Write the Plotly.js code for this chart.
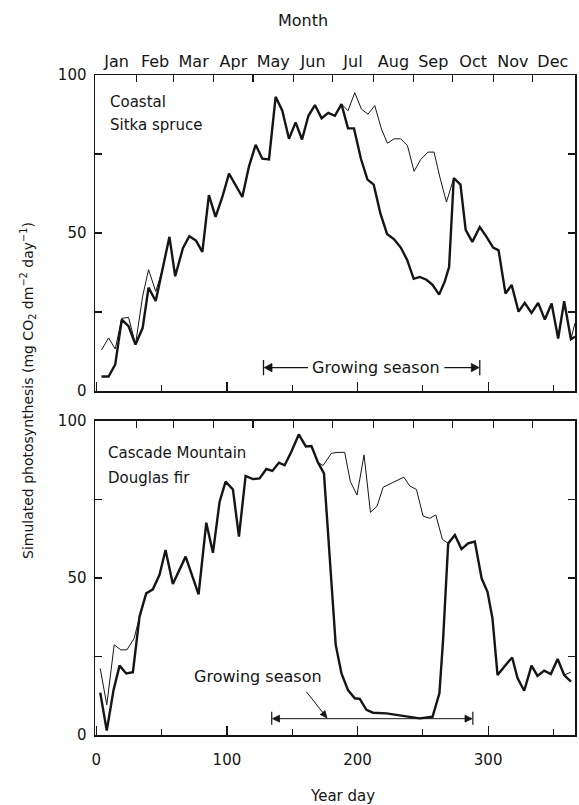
<!DOCTYPE html>
<html>
<head>
<meta charset="utf-8">
<script src="https://cdn.plot.ly/plotly-3.0.1.min.js"></script>
<style>html,body{margin:0;padding:0;background:#fff;}#chart{width:579px;height:805px;}</style>
</head>
<body>
<div id="chart"></div>
<script>
// ---- data ----
const months = ["Jan","Feb","Mar","Apr","May","Jun","Jul","Aug","Sep","Oct","Nov","Dec"];
const monthMid = [15.5,45,74.5,105,135.5,166,196.5,227.5,258,288.5,319,349.5];
const monthStart = [31,59,90,120,151,181,212,243,273,304,334];

// Coastal Sitka spruce
const topDays = [4,9.4,14.5,19.5,24.7,30,35.5,40,45.5,50.7,56,60.4,66.3,71.2,76.3,81.2,86.2,91.3,96.5,101.6,106.7,111.8,116.9,122,127.1,132.2,137.3,142.4,147.5,152.6,157.5,162.4,167.4,172.5,177.6,182.7,187.7,192.7,197.3,202.6,207.6,212.4,217.5,222.6,228,233.1,238,243,247.7,252.8,257.4,262.5,266.8,270.1,273.7,278.8,282.8,287.9,293.6,298.8,303.8,308,313.3,318,323.3,328,333.2,338.3,343.4,348.6,353.6,358.2,363.4,366.5];
const topActual = [4.6,4.6,8.4,22.6,20.5,14.7,20,32.7,28.5,38.4,48.8,36.3,45.2,49,47.6,44,62,55.1,61.4,68.8,65.1,61.4,71.1,77.9,73.5,73.3,93.1,88.7,79.8,85,79.6,87.1,90.5,86.3,88,87.1,90.8,83.1,83.1,73.5,66.9,65.3,56.2,49.7,48,45.4,41.5,35.5,36.1,35.2,33.6,30.5,34.7,39.2,67.4,65.3,51,47.2,51.9,48.8,45.4,44.5,30.8,33.6,25.1,27.9,24.7,27.9,22.6,27.7,16.6,28.4,16.4,17.2];
const topPotDays = [4,9.4,14.5,19.5,24.7,30,35.5,40,45.5,50.7,null,187.7,192.7,197.9,203,208,213.2,218.3,222.9,228,233.1,238.2,243.3,248.4,254,258.6,263,268.1,273.7,null,363.4,366.5];
const topPot = [13,16.8,13.3,23,23.3,14.8,30,38.4,31.5,38.4,null,90.8,88.7,94.4,89.2,87.6,90.3,82.9,78.4,79.8,79.8,77.7,69.5,73.3,75.6,75.6,67.7,59.8,67.4,null,16.4,21.5];

// Cascade Mountain Douglas fir
const botDays = [3,8,13.2,17.8,22.9,28,33.1,38.2,43.3,48.4,53,58.6,68.4,78.3,84.2,89.3,94.4,99,104.6,109.2,114.3,119.9,125,130.2,134.8,139.8,144.2,149.3,155,160.4,164.7,169.7,174.3,183.3,187.7,192.7,197.9,201.7,206.8,211.9,222.1,237.5,247.5,257.4,262.7,265.5,269.4,274.5,279.6,284.7,289.8,295,299.5,303.3,307.2,312.8,318.4,322.5,327.6,333.2,337.8,342.9,348,353.2,358.2,363.4];
const botActual = [13.5,1.4,14.3,22.1,19.6,20,37.7,45.1,46.4,51,58.9,48.1,56.8,44.8,67.6,58,74.3,80.7,78.2,63.2,82.5,81.5,81.7,84.7,84.1,86.7,85.9,90.2,95.7,91.9,92,86.8,83.3,28.7,19.6,14.3,11.7,11.5,8,7.1,6.9,5.8,5.3,5.8,13.3,30.3,61,63.7,59.2,61,61.6,49.9,45.6,37.2,19.1,22,24.7,18.1,14.1,22.1,18.8,20.5,19.4,24.2,19.1,17];
const botPotDays = [3,8,13.7,18.8,23.4,29,33.1,null,169.7,173.6,180,185,190.2,194.5,199.6,205,209.9,215,219.6,224.7,229.8,235.4,240,245.1,250.2,255.3,259.9,265,269.4,null,358.2,363.4];
const botPot = [21.2,9.6,28.7,27.1,27.1,30.8,37.7,null,86.8,85.8,89.7,90,90,80.7,76.4,89.2,70.9,72.9,78.9,79.9,81,82.1,79.3,78.2,69.7,69,70.1,62.3,61,null,19.1,20];

// growing season span (year days)
const seasonTop = [128, 293.6];
const seasonBot = [134.3, 288.3];

const yLabelVals = [0,50,100];
const yMinorVals = [25,75];
const dayLabelVals = [0,100,200,300];
const dayMinorVals = [50,150,250,350];

// ---- chart ----
const ink = "#151515";
const FONT = "DejaVu Sans";
const xr = [-1, 366.5];

const traces = [
  {x: topPotDays, y: topPot, xaxis:"x", yaxis:"y", mode:"lines", line:{color:ink, width:1}, connectgaps:false, hoverinfo:"skip"},
  {x: topDays, y: topActual, xaxis:"x", yaxis:"y", mode:"lines", line:{color:ink, width:2.4}, hoverinfo:"skip"},
  {x: botPotDays, y: botPot, xaxis:"x2", yaxis:"y2", mode:"lines", line:{color:ink, width:1}, connectgaps:false, hoverinfo:"skip"},
  {x: botDays, y: botActual, xaxis:"x2", yaxis:"y2", mode:"lines", line:{color:ink, width:2.4}, hoverinfo:"skip"},
  // invisible carriers so the month (top) axes get drawn
  {x: monthMid, y: monthMid.map(() => null), xaxis:"x3", yaxis:"y", mode:"lines", hoverinfo:"skip", showlegend:false},
  {x: monthMid, y: monthMid.map(() => null), xaxis:"x4", yaxis:"y2", mode:"lines", hoverinfo:"skip", showlegend:false}
];

const dayAxis = (anchor, labels) => ({
  domain:[0,1], anchor:anchor, range:xr, showgrid:false, zeroline:false,
  showline:true, linecolor:ink, linewidth:1.5, mirror:true,
  tickmode:"array", ticks:"inside", tickvals:dayLabelVals, ticklen:9, tickwidth:1.2, tickcolor:ink,
  showticklabels:labels, ticklabelstandoff:10,
  tickfont:{family:FONT, size:15, color:ink},
  minor:{tickmode:"array", tickvals:dayMinorVals, ticks:"inside", ticklen:6, tickwidth:1.2, tickcolor:ink, showgrid:false}
});
const monthAxis = (over, anchor, labels) => {
  const a = {
    overlaying:over, anchor:anchor, side:"top", range:xr, showgrid:false, zeroline:false, showline:false,
    tickmode:"array", tickcolor:ink, tickwidth:1.2, ticklen:7, tickangle:0,
    tickfont:{family:FONT, size:16, color:ink}
  };
  if (labels) {
    a.tickvals = monthMid; a.ticktext = months; a.ticks = ""; a.showticklabels = true;
    a.ticklabelstandoff = 4;
    a.minor = {tickmode:"array", tickvals:monthStart, ticks:"inside", ticklen:7, tickwidth:1.2, tickcolor:ink, showgrid:false};
  } else {
    a.tickvals = monthStart; a.ticks = "inside"; a.showticklabels = false;
  }
  return a;
};
const valAxis = (domain, anchor) => ({
  domain:domain, anchor:anchor, range:[0,100], showgrid:false, zeroline:false,
  showline:true, linecolor:ink, linewidth:1.5, mirror:"ticks",
  tickmode:"array", ticks:"inside", tickvals:yLabelVals, ticklen:7, tickwidth:1.2, tickcolor:ink,
  ticklabelstandoff:4, tickfont:{family:FONT, size:15, color:ink},
  minor:{tickmode:"array", tickvals:yMinorVals, ticks:"inside", ticklen:7, tickwidth:1.2, tickcolor:ink, showgrid:false}
});

const txt = (size) => ({family:FONT, size:size, color:ink});
const seg = (xa, ya, x0, y0, x1, y1, w) => ({type:"line", xref:xa, yref:ya, x0:x0, y0:y0, x1:x1, y1:y1, line:{color:ink, width:w}});
const head = (xa, ya, p) => ({type:"path", xref:xa, yref:ya, path:p, fillcolor:ink, line:{color:ink, width:0.8}});

const layout = {
  width:579, height:805,
  margin:{l:95, r:4, t:75, b:70},
  paper_bgcolor:"#fff", plot_bgcolor:"#fff",
  showlegend:false,
  xaxis: dayAxis("y", false),
  xaxis2: dayAxis("y2", true),
  xaxis3: monthAxis("x", "y", true),
  xaxis4: monthAxis("x2", "y2", false),
  yaxis: valAxis([0.5212,1], "x"),
  yaxis2: valAxis([0,0.4758], "x2"),
  shapes:[
    // top growing-season bracket
    seg("x","y", seasonTop[0], 5, seasonTop[0], 9.8, 1.3),
    seg("x","y", seasonTop[1], 5, seasonTop[1], 9.8, 1.3),
    seg("x","y", seasonTop[0]+3, 7.4, 162, 7.4, 1.2),
    seg("x","y", 266.5, 7.4, seasonTop[1]-3, 7.4, 1.2),
    head("x","y", "M128.6,7.4 L134.5,8.7 L134.5,6.1 Z"),
    head("x","y", "M293,7.4 L287.1,8.7 L287.1,6.1 Z"),
    // bottom growing-season bracket
    seg("x2","y2", seasonBot[0], 3.3, seasonBot[0], 7.4, 1.2),
    seg("x2","y2", seasonBot[1], 3.3, seasonBot[1], 7.4, 1.2),
    seg("x2","y2", seasonBot[0]+3, 5.2, seasonBot[1]-3, 5.2, 1),
    head("x2","y2", "M134.9,5.2 L140.3,6.3 L140.3,4.1 Z"),
    head("x2","y2", "M287.7,5.2 L282.3,6.3 L282.3,4.1 Z"),
    seg("x2","y2", 160.8, 13.8, 173.5, 7.1, 1),
    head("x2","y2", "M176.6,5.4 L171.5,6.56 L175.1,7.74 Z")
  ],
  annotations:[
    {text:"Month", xref:"paper", yref:"paper", x:0.4333, y:1.0833, showarrow:false, font:txt(16), xanchor:"center", yanchor:"middle"},
    {text:"Year day", xref:"paper", yref:"paper", x:0.5146, y:-0.0924, showarrow:false, font:txt(15), xanchor:"center", yanchor:"middle"},
    {text:"Simulated photosynthesis (mg CO<sub>2</sub> dm<sup>−2</sup> day<sup>−1</sup>)", xref:"paper", yref:"paper",
     x:-0.1396, y:0.5227, textangle:-90, showarrow:false, font:txt(14), xanchor:"center", yanchor:"middle"},
    {text:"Coastal", xref:"x", yref:"y", x:8.6, y:91.5, showarrow:false, xanchor:"left", yanchor:"middle", font:txt(15)},
    {text:"Sitka spruce", xref:"x", yref:"y", x:8.6, y:84.2, showarrow:false, xanchor:"left", yanchor:"middle", font:txt(15)},
    {text:"Cascade Mountain", xref:"x2", yref:"y2", x:7.6, y:89.8, showarrow:false, xanchor:"left", yanchor:"middle", font:txt(15)},
    {text:"Douglas fir", xref:"x2", yref:"y2", x:7.6, y:81.8, showarrow:false, xanchor:"left", yanchor:"middle", font:txt(15)},
    {text:"Growing season", xref:"x", yref:"y", x:214, y:7.3, showarrow:false, xanchor:"center", yanchor:"middle", font:txt(16)},
    {text:"Growing season", xref:"x2", yref:"y2", x:123.5, y:18.5, showarrow:false, xanchor:"center", yanchor:"middle", font:txt(16)}
  ]
};

Plotly.newPlot("chart", traces, layout, {staticPlot:true, displayModeBar:false});
</script>
</body>
</html>
